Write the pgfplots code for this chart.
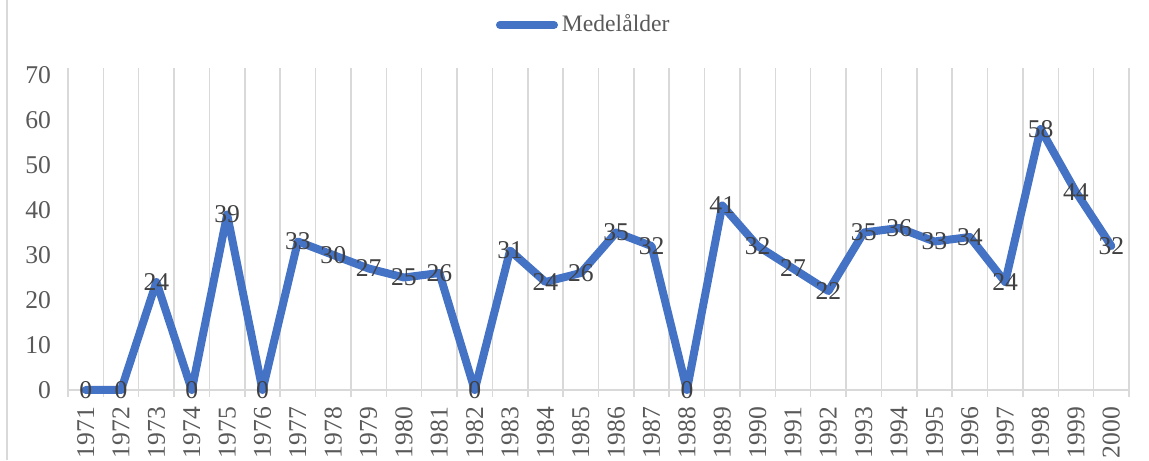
\documentclass[border=0pt]{standalone}
\usepackage{fontspec}
\setmainfont{Liberation Serif}
\usepackage{pgfplots}
\pgfplotsset{compat=1.18}
\definecolor{lineblue}{HTML}{4472C4}
\definecolor{gridgray}{HTML}{D9D9D9}
\definecolor{ticktext}{HTML}{595959}
\definecolor{labeltext}{HTML}{404040}
\begin{document}
\begin{tikzpicture}
\path[use as bounding box] (-34pt,-35pt) rectangle (540.5pt,195pt);
\draw[gridgray, line width=0.8pt] (-30.5pt,-35pt) -- (-30.5pt,195pt);
\begin{axis}[
  at={(0,0)}, anchor=south west,
  scale only axis, width=530.5pt, height=157.5pt,
  xmin=-0.5, xmax=29.5, ymin=0, ymax=70,
  axis line style={draw=none},
  xtick={0,...,29},
  xticklabels={1971,1972,1973,1974,1975,1976,1977,1978,1979,1980,1981,1982,1983,1984,1985,1986,1987,1988,1989,1990,1991,1992,1993,1994,1995,1996,1997,1998,1999,2000},
  x tick label style={rotate=90, anchor=east, font=\fontsize{12.8}{14}\selectfont, text=ticktext},
  xticklabel shift=5pt,
  minor xtick={-0.5,0.5,...,29.5},
  xminorgrids,
  minor grid style={gridgray, line width=0.75pt},
  tick align=outside,
  major tick length=0pt,
  minor tick length=3.5pt,
  minor x tick style={gridgray, line width=0.75pt},
  ytick={0,10,...,70},
  y tick label style={font=\fontsize{12.8}{14}\selectfont, text=ticktext},
  yticklabel shift=5pt,
  extra y ticks={0},
  extra y tick labels={},
  extra y tick style={grid=major, major grid style={gridgray, line width=1pt}},
  /pgf/number format/assume math mode=true,
  legend style={draw=none, at={(0.487,1.159)}, anchor=center, font=\fontsize{11.8}{13}\selectfont, text=ticktext, legend columns=1},
  legend image code/.code={\draw[#1, line cap=round] (0pt,0pt) -- (27pt,0pt);},
  nodes near coords,
  every node near coord/.append style={anchor=center, font=\fontsize{12.8}{14}\selectfont, text=labeltext},
  clip=false,
]
\addplot[lineblue, line width=4pt, line join=round, line cap=round, mark=none] coordinates {
(0,0) (1,0) (2,24) (3,0) (4,39) (5,0) (6,33) (7,30) (8,27) (9,25)
(10,26) (11,0) (12,31) (13,24) (14,26) (15,35) (16,32) (17,0) (18,41) (19,32)
(20,27) (21,22) (22,35) (23,36) (24,33) (25,34) (26,24) (27,58) (28,44) (29,32)
};
\addlegendentry{Medelålder}
\end{axis}
\end{tikzpicture}
\end{document}
